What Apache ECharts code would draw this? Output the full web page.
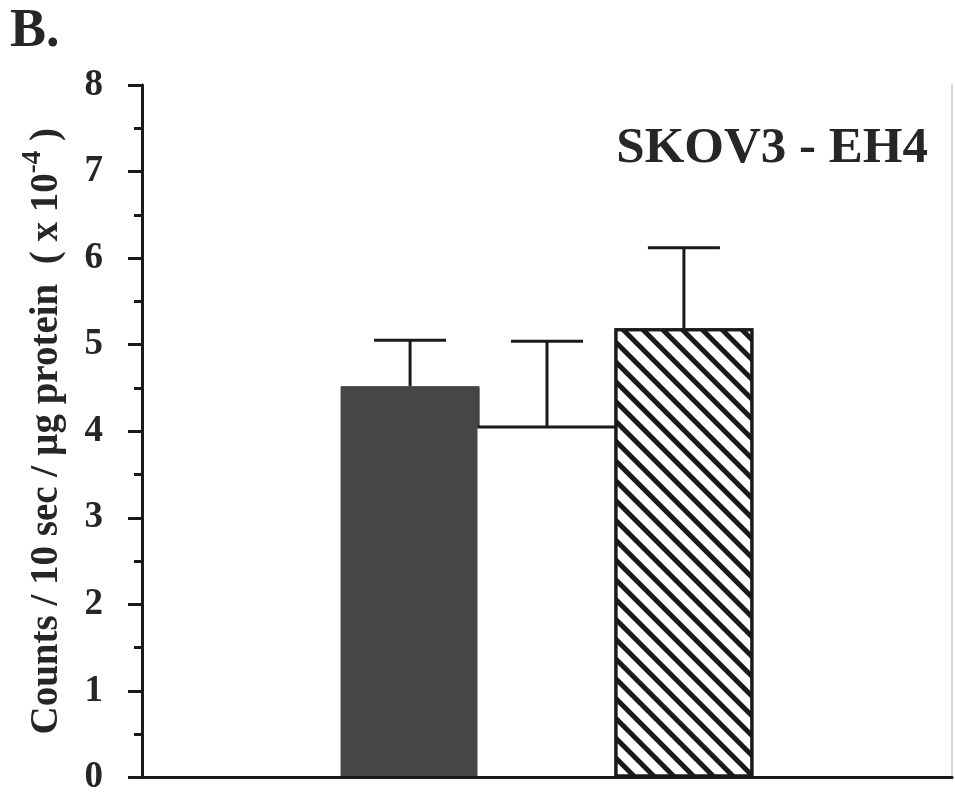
<!DOCTYPE html>
<html>
<head>
<meta charset="utf-8">
<title>SKOV3 - EH4</title>
<script src="https://cdn.jsdelivr.net/npm/echarts@6/dist/echarts.min.js"></script>
<style>
  html, body { margin: 0; padding: 0; background: #ffffff; }
  #chart { width: 955px; height: 796px; }
</style>
</head>
<body>
<div id="chart"></div>
<script>
// Panel data: mean counts per 10 s per µg protein (x 10^-4) with upper error bars
var panelLabel = 'B.';
var cellLine = 'SKOV3 - EH4';
var categories = ['SKOV3 - EH4'];
var groupNames = ['Group 1', 'Group 2', 'Group 3'];
var means = [4.52, 4.05, 5.19];
var errors = [0.53, 0.99, 0.93];
var yTicks = [0, 1, 2, 3, 4, 5, 6, 7, 8];

var SERIF = '"Liberation Serif", "Times New Roman", serif';
var INK = '#262626';
var BAR_W = 139;
var BAR_GAP = -0.015;         // slight overlap so neighbouring bars touch
var CAP_W = 72;
var STEP = BAR_W * (1 + BAR_GAP);

// The open (white) bar has no outline of its own except its top edge
var openTop = [false, true, false];

var barStyles = [
  { color: '#464646', borderColor: '#3a3a3a', borderWidth: 1 },
  { color: '#ffffff', borderWidth: 0 },
  {
    color: '#ffffff', borderColor: '#1a1a1a', borderWidth: 3,
    decal: {
      symbol: 'rect', symbolSize: 1, color: '#1a1a1a',
      dashArrayX: [1, 0], dashArrayY: [5, 9], rotation: Math.PI / 4
    }
  }
];

var barSeries = groupNames.map(function (name, i) {
  return {
    name: name,
    type: 'bar',
    data: [means[i]],
    barWidth: BAR_W,
    barGap: (BAR_GAP * 100) + '%',
    itemStyle: barStyles[i],
    silent: true,
    z: 2
  };
});

// Error bars: vertical stem from bar top to mean + error, with a horizontal cap
var errorSeries = {
  type: 'custom',
  silent: true,
  z: 5,
  data: means.map(function (m, i) { return [0, m, m + errors[i], i]; }),
  encode: { x: 0, y: [1, 2] },
  renderItem: function (params, api) {
    var idx = api.value(3);
    var base = api.coord([api.value(0), api.value(1)]);
    var top = api.coord([api.value(0), api.value(2)]);
    var x = base[0] + (idx - (means.length - 1) / 2) * STEP;
    var style = { stroke: '#1a1a1a', lineWidth: 3 };
    var children = [
      { type: 'line', shape: { x1: x, y1: base[1], x2: x, y2: top[1] }, style: style },
      { type: 'line', shape: { x1: x - CAP_W / 2, y1: top[1], x2: x + CAP_W / 2, y2: top[1] }, style: style }
    ];
    if (openTop[idx]) {
      children.push({
        type: 'line',
        shape: { x1: x - BAR_W / 2, y1: base[1], x2: x + BAR_W / 2, y2: base[1] },
        style: style
      });
    }
    return { type: 'group', children: children };
  }
};

var chart = echarts.init(document.getElementById('chart'), null, { renderer: 'canvas' });
chart.setOption({
  animation: false,
  backgroundColor: '#ffffff',
  title: [
    {
      text: panelLabel, left: 10, top: 5, padding: 0,
      textStyle: { fontFamily: SERIF, fontWeight: 'bold', fontSize: 54, color: INK }
    },
    {
      text: cellLine, right: 27, top: 123, padding: 0,
      textStyle: { fontFamily: SERIF, fontWeight: 'bold', fontSize: 51, color: INK }
    }
  ],
  grid: { left: 142, right: 3, top: 85, bottom: 16, containLabel: false },
  xAxis: [
    {
      type: 'category', data: categories, position: 'bottom',
      axisLine: { show: true, lineStyle: { color: '#1a1a1a', width: 3 } },
      axisTick: { show: false }, axisLabel: { show: false }, splitLine: { show: false },
      z: 6
    },
    {
      type: 'category', data: categories, position: 'top',
      axisLine: { show: true, lineStyle: { color: '#2a2a2a', width: 2.5 } },
      axisTick: { show: false }, axisLabel: { show: false }, splitLine: { show: false }
    }
  ],
  yAxis: [
    {
      type: 'value', min: yTicks[0], max: yTicks[yTicks.length - 1], interval: 1,
      position: 'left',
      axisLine: { show: true, lineStyle: { color: '#1a1a1a', width: 3 } },
      axisTick: { show: true, inside: false, length: 14, lineStyle: { color: '#1a1a1a', width: 3 } },
      minorTick: { show: true, splitNumber: 2, length: 8, lineStyle: { color: '#1a1a1a', width: 3 } },
      splitLine: { show: false },
      axisLabel: {
        margin: 39, fontFamily: SERIF, fontWeight: 'bold', fontSize: 37, color: INK,
        formatter: function (v) { return yTicks.indexOf(v) >= 0 ? String(v) : ''; }
      },
      name: '{n|Counts / 10 sec / \u00b5g protein  ( x 10}{s|-4}{n| )}',
      nameLocation: 'middle',
      nameRotate: 90,
      nameGap: 76,
      nameTextStyle: {
        rich: {
          n: { fontFamily: SERIF, fontWeight: 'bold', fontSize: 39, color: INK, lineHeight: 46, verticalAlign: 'bottom' },
          s: { fontFamily: SERIF, fontWeight: 'bold', fontSize: 27, color: INK, lineHeight: 46, verticalAlign: 'top' }
        }
      }
    },
    {
      type: 'value', min: yTicks[0], max: yTicks[yTicks.length - 1], interval: 1,
      position: 'right',
      axisLine: { show: true, lineStyle: { color: '#c8c8c8', width: 1.5 } },
      axisTick: { show: false }, axisLabel: { show: false }, splitLine: { show: false }
    }
  ],
  series: barSeries.concat([errorSeries])
});
</script>
</body>
</html>
